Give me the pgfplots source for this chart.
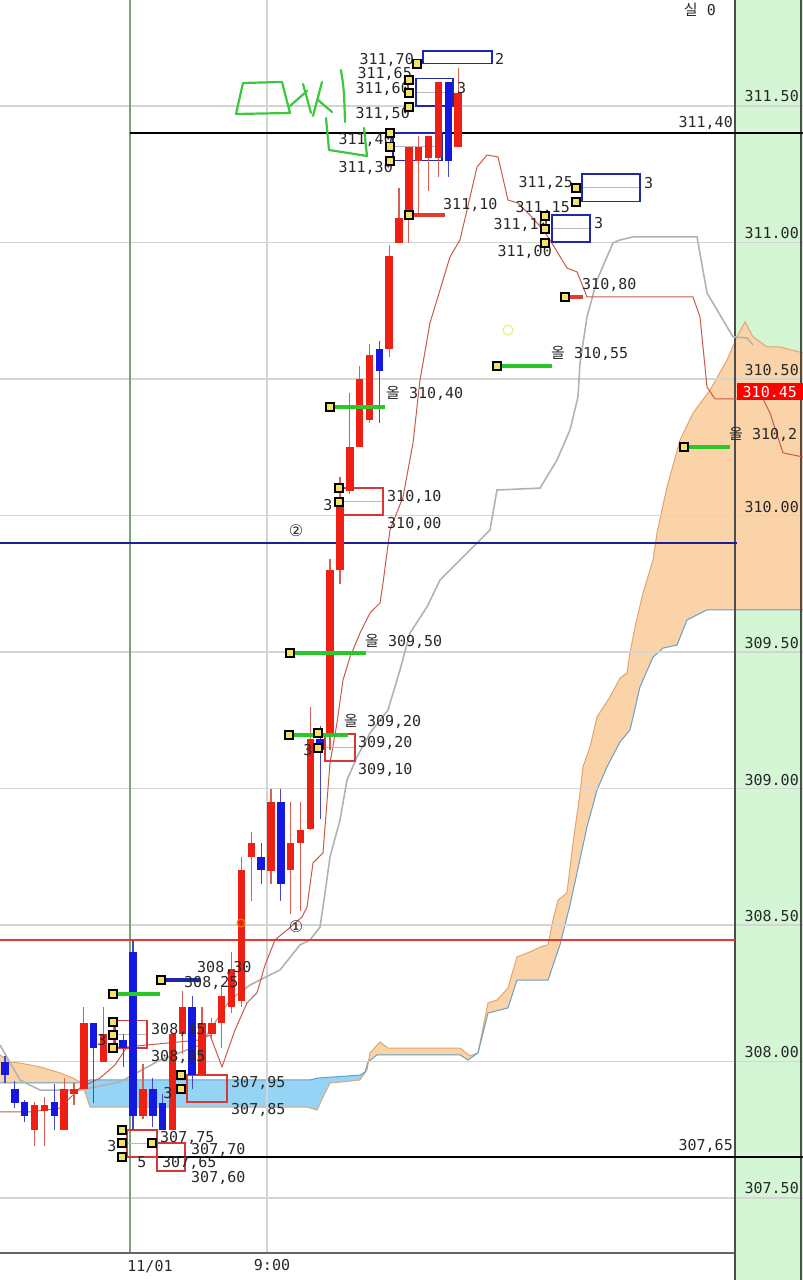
\documentclass[border=0pt]{standalone}
\usepackage{pgfplots}
\pgfplotsset{compat=1.18}
\usepackage{pgfplotstable}
\usepackage{fontspec}
\setmainfont{DejaVu Sans}
\newfontfamily\mono{DejaVu Sans Mono}
\newfontfamily\kr{Noto Sans CJK KR}

\definecolor{cred}{RGB}{238,32,20}
\definecolor{cblue}{RGB}{20,24,225}
\definecolor{wred}{RGB}{215,95,85}
\definecolor{wblue}{RGB}{70,70,205}
\definecolor{boxred}{RGB}{215,55,55}
\definecolor{boxblue}{RGB}{30,40,170}
\definecolor{segg}{RGB}{40,200,40}
\definecolor{navy}{RGB}{30,30,150}
\definecolor{hred}{RGB}{225,60,45}
\definecolor{dotfill}{RGB}{245,225,100}
\definecolor{faintyel}{RGB}{235,235,120}
\definecolor{cloudo}{RGB}{250,212,168}
\definecolor{cloudb}{RGB}{150,212,245}
\definecolor{spanA}{RGB}{225,165,110}
\definecolor{spanB}{RGB}{100,160,200}
\definecolor{tenkan}{RGB}{200,90,70}
\definecolor{kijun}{RGB}{178,178,178}
\definecolor{panel}{RGB}{212,246,212}
\definecolor{gridc}{RGB}{212,212,212}
\definecolor{vgreen}{RGB}{120,165,120}
\definecolor{txt}{RGB}{40,40,40}
\definecolor{hand}{RGB}{60,200,60}

\newcommand{\lf}{\fontsize{15}{15}\selectfont\mono}

% candles: i, open, high, low, close
\pgfplotstableread{
i O H L C
3 307.75 307.85 307.69 307.84
4 307.82 307.87 307.69 307.84
6 307.75 307.94 307.75 307.90
7 307.88 307.92 307.84 307.90
8 307.90 308.20 307.90 308.14
10 308.00 308.20 308.00 308.10
11 308.08 308.13 308.04 308.10
14 307.80 307.99 307.79 307.90
17 307.75 308.10 307.75 308.10
18 308.10 308.26 308.03 308.20
20 307.95 308.20 307.95 308.14
21 308.10 308.16 308.08 308.14
22 308.14 308.28 308.05 308.24
23 308.20 308.40 308.18 308.34
24 308.22 308.75 308.20 308.70
25 308.75 308.84 308.59 308.80
27 308.70 309.00 308.65 308.95
29 308.70 308.95 308.54 308.80
30 308.80 308.95 308.55 308.85
31 308.85 309.30 308.85 309.18
33 309.20 309.84 309.14 309.80
34 309.80 310.14 309.75 310.06
35 310.09 310.45 310.08 310.25
36 310.25 310.55 310.25 310.50
37 310.35 310.63 310.34 310.59
39 310.61 310.99 310.58 310.95
40 311.00 311.20 311.00 311.09
41 311.11 311.35 311.00 311.35
42 311.30 311.39 311.10 311.35
43 311.31 311.39 311.19 311.39
44 311.31 311.59 311.24 311.59
46 311.35 311.64 311.35 311.55
}\redc
\pgfplotstableread{
i O H L C
0 308.00 308.02 307.92 307.95
1 307.90 307.93 307.83 307.85
2 307.85 307.86 307.78 307.80
5 307.85 307.92 307.75 307.80
9 308.14 308.14 307.85 308.05
12 308.08 308.10 307.98 308.05
13 308.40 308.44 307.75 307.80
15 307.90 307.94 307.76 307.80
16 307.85 307.88 307.75 307.75
19 308.20 308.24 307.90 307.95
26 308.75 308.80 308.65 308.70
28 308.95 309.00 308.59 308.65
32 309.18 309.23 308.89 309.14
38 310.61 310.64 310.34 310.53
45 311.59 311.59 311.24 311.30
}\bluec

\newcommand{\pbox}[5]{\addplot[draw=#5, line width=1.8pt, forget plot] coordinates {(#1,#3) (#2,#3) (#2,#4) (#1,#4)} -- cycle;}
\newcommand{\mline}[3]{\addplot[gray!55, line width=1pt, forget plot] coordinates {(#1,#3) (#2,#3)};}
\newcommand{\hseg}[4]{\addplot[#4, line width=3.4pt, forget plot] coordinates {(#1,#3) (#2,#3)};}

\tikzset{lab/.style={font=\lf, text=txt, inner sep=0pt}}

\begin{document}
\begin{tikzpicture}
\useasboundingbox (0,0) rectangle (803pt,1280pt);
\begin{axis}[
  at={(0,0)}, anchor=south west,
  scale only axis, width=803pt, height=1280pt,
  xmin=0, xmax=803, ymin=307.1994, ymax=311.888,
  axis lines=none, xtick=\empty, ytick=\empty,
  clip=false,
]
% price panel on the right
\addplot[fill=panel, draw=none, forget plot] coordinates {(735,307.1994) (803,307.1994) (803,311.888) (735,311.888)} -- cycle;

% ichimoku cloud
\addplot[fill=cloudo, draw=none, forget plot] coordinates {(0,308.024) (10,307.998) (20,307.994) (40,307.980) (60,307.958) (73,307.939) (82,307.921) (0,307.921)} -- cycle;
\addplot[fill=cloudb, draw=none, forget plot] coordinates {(82,307.921) (90,307.932) (310,307.932) (317,307.939) (360,307.950) (365,307.961) (360,307.932) (343,307.925) (330,307.921) (323,307.870) (317,307.822) (307,307.833) (90,307.833)} -- cycle;
\addplot[fill=cloudo, draw=none, forget plot] coordinates {(365,307.961) (367,307.969) (370,308.031) (380,308.071) (388,308.049) (460,308.049) (470,308.020) (478,308.031) (488,308.214) (497,308.225) (508,308.269) (517,308.383) (530,308.401) (540,308.419) (548,308.427) (553,308.518) (558,308.591) (567,308.617) (573,308.800) (580,308.983) (583,309.079) (590,309.152) (597,309.262) (610,309.335) (620,309.404) (627,309.423) (630,309.496) (635,309.591) (643,309.716) (653,309.837) (657,309.936) (667,310.104) (680,310.276) (693,310.375) (710,310.459) (727,310.569) (737,310.654) (745,310.709) (753,310.654) (767,310.617) (780,310.617) (803,310.595) (803,309.654) (707,309.654) (687,309.617) (677,309.525) (663,309.514) (653,309.481) (640,309.372) (630,309.214) (620,309.170) (607,309.079) (597,308.994) (587,308.859) (577,308.690) (570,308.573) (560,308.427) (548,308.298) (517,308.298) (508,308.196) (488,308.177) (478,308.031) (468,308.005) (460,308.024) (377,308.024) (368,307.998)} -- cycle;
\addplot[spanA, line width=1pt, forget plot] coordinates {(0,308.024) (10,307.998) (20,307.994) (40,307.980) (60,307.958) (73,307.939) (82,307.921) (90,307.833) (307,307.833) (317,307.822) (323,307.870) (330,307.921) (343,307.925) (360,307.932) (367,307.969) (370,308.031) (380,308.071) (388,308.049) (460,308.049) (470,308.020) (478,308.031) (488,308.214) (497,308.225) (508,308.269) (517,308.383) (530,308.401) (540,308.419) (548,308.427) (553,308.518) (558,308.591) (567,308.617) (573,308.800) (580,308.983) (583,309.079) (590,309.152) (597,309.262) (610,309.335) (620,309.404) (627,309.423) (630,309.496) (635,309.591) (643,309.716) (653,309.837) (657,309.936) (667,310.104) (680,310.276) (693,310.375) (710,310.459) (727,310.569) (737,310.654) (745,310.709) (753,310.654) (767,310.617) (780,310.617) (803,310.595)};
\addplot[spanB, line width=1pt, forget plot] coordinates {(0,307.921) (82,307.921) (90,307.932) (310,307.932) (317,307.939) (360,307.950) (365,307.961) (368,307.998) (377,308.024) (460,308.024) (468,308.005) (478,308.031) (488,308.177) (508,308.196) (517,308.298) (548,308.298) (560,308.427) (570,308.573) (577,308.690) (587,308.859) (597,308.994) (607,309.079) (620,309.170) (630,309.214) (640,309.372) (653,309.481) (663,309.514) (677,309.525) (687,309.617) (707,309.654) (803,309.654)};

% grid
\pgfplotsinvokeforeach{307.5,308.0,308.5,309.0,309.5,310.0,310.5,311.0,311.5}{
  \draw[gridc, line width=1.6pt] (axis cs:0,#1) -- (axis cs:803,#1);
}
\draw[vgreen, line width=1.2pt] (axis cs:130,311.888) -- (axis cs:130,307.298);
\draw[gridc, line width=1.4pt] (axis cs:267,311.888) -- (axis cs:267,307.298);
\draw[gray!80!black, line width=1.2pt] (axis cs:0,307.298) -- (axis cs:735,307.298);
\draw[black!70, line width=1.4pt] (axis cs:735,311.888) -- (axis cs:735,307.1994);
\draw[black!70, line width=1.2pt] (axis cs:801,311.888) -- (axis cs:801,307.1994);

% kijun and tenkan
\addplot[kijun, line width=1.6pt, forget plot] coordinates {(0,308.060) (20,307.932) (40,307.895) (80,307.895) (120,307.925) (160,308.005) (200,308.060) (230,308.225) (250,308.280) (280,308.335) (300,308.427) (310,308.445) (320,308.492) (325,308.617) (330,308.749) (340,308.884) (347,309.031) (357,309.115) (370,309.203) (388,309.287) (400,309.434) (410,309.569) (427,309.665) (440,309.763) (453,309.811) (473,309.884) (490,309.947) (497,310.093) (540,310.100) (557,310.203) (570,310.313) (578,310.434) (580,310.558) (587,310.727) (597,310.862) (613,310.998) (620,311.009) (633,311.020) (697,311.020) (707,310.815) (733,310.654) (747,310.650) (753,310.624)};
\addplot[tenkan, line width=1pt, forget plot] coordinates {(0,307.815) (30,307.815) (60,307.829) (80,307.903) (100,307.939) (115,307.987) (127,308.053) (200,308.079) (210,308.097) (222,307.980) (235,308.115) (247,308.214) (257,308.251) (265,308.353) (275,308.445) (293,308.500) (302,308.529) (307,308.566) (313,308.727) (323,308.764) (330,309.093) (337,309.240) (343,309.397) (350,309.481) (360,309.569) (370,309.643) (380,309.679) (383,309.752) (390,309.947) (403,310.067) (413,310.265) (420,310.496) (430,310.705) (450,310.947) (460,311.009) (477,311.276) (487,311.320) (498,311.313) (508,311.155) (518,311.144) (530,311.100) (543,311.046) (550,311.009) (567,310.906) (577,310.892) (587,310.800) (693,310.800) (700,310.727) (707,310.470) (715,310.427) (763,310.427) (770,310.375) (783,310.229) (803,310.214)};

% horizontal levels
\addplot[hred, line width=1.8pt, forget plot] coordinates {(0,308.445) (735,308.445)};
\addplot[navy, line width=1.8pt, forget plot] coordinates {(0,309.899) (737,309.899)};
\addplot[black, line width=1.8pt, forget plot] coordinates {(130,311.40) (803,311.40)};
\addplot[black, line width=1.8pt, forget plot] coordinates {(122,307.65) (803,307.65)};

% boxes
\pbox{423}{492}{311.70}{311.655}{boxblue}
\mline{416}{453}{311.55}\pbox{416}{453}{311.60}{311.50}{boxblue}
\mline{393}{442}{311.35}\pbox{393}{442}{311.40}{311.30}{boxblue}
\mline{582}{640}{311.20}\pbox{582}{640}{311.25}{311.15}{boxblue}
\mline{552}{590}{311.05}\pbox{552}{590}{311.10}{311.00}{boxblue}
\mline{340}{383}{310.05}\pbox{340}{383}{310.10}{310.00}{boxred}
\mline{325}{355}{309.15}\pbox{325}{355}{309.20}{309.10}{boxred}
\mline{115}{147}{308.10}\pbox{115}{147}{308.15}{308.05}{boxred}
\pbox{187}{227}{307.95}{307.85}{boxred}
\mline{127}{157}{307.70}\pbox{127}{157}{307.75}{307.65}{boxred}
\pbox{157}{185}{307.70}{307.60}{boxred}

% candles: wicks then bodies
\addplot[only marks, mark size=0pt, draw=none, fill=none, forget plot, error bars/.cd, y dir=both, y explicit, error mark=none, error bar style={line width=1.2pt, wred}]
  table[x expr=5+9.85*\thisrow{i}, y expr=(\thisrow{H}+\thisrow{L})/2, y error expr=(\thisrow{H}-\thisrow{L})/2] {\redc};
\addplot[only marks, mark size=0pt, draw=none, fill=none, forget plot, error bars/.cd, y dir=both, y explicit, error mark=none, error bar style={line width=1.2pt, wblue}]
  table[x expr=5+9.85*\thisrow{i}, y expr=(\thisrow{H}+\thisrow{L})/2, y error expr=(\thisrow{H}-\thisrow{L})/2] {\bluec};
\addplot[only marks, mark size=0pt, draw=none, fill=none, forget plot, error bars/.cd, y dir=both, y explicit, error mark=none, error bar style={line width=7.5pt, cred}]
  table[x expr=5+9.85*\thisrow{i}, y expr=(\thisrow{O}+\thisrow{C})/2, y error expr=abs(\thisrow{C}-\thisrow{O})/2] {\redc};
\addplot[only marks, mark size=0pt, draw=none, fill=none, forget plot, error bars/.cd, y dir=both, y explicit, error mark=none, error bar style={line width=7.5pt, cblue}]
  table[x expr=5+9.85*\thisrow{i}, y expr=(\thisrow{O}+\thisrow{C})/2, y error expr=abs(\thisrow{C}-\thisrow{O})/2] {\bluec};

% order marks
\hseg{409}{445}{311.10}{hred}
\hseg{565}{583}{310.80}{hred}
\hseg{497}{552}{310.547}{segg}
\hseg{330}{385}{310.397}{segg}
\hseg{684}{730}{310.251}{segg}
\hseg{290}{366}{309.496}{segg}
\hseg{289}{348}{309.196}{segg}
\hseg{113}{160}{308.247}{segg}
\hseg{161}{200}{308.298}{boxblue}

\addplot[only marks, mark=o, mark size=5pt, mark options={draw=faintyel, line width=1pt}, forget plot] coordinates {(508,310.679)};
\addplot[only marks, mark=o, mark size=4pt, mark options={draw=orange, line width=1pt}, forget plot] coordinates {(241,308.507)};

\addplot[only marks, mark=square*, mark size=4.2pt, mark options={fill=dotfill, draw=black, line width=1.7pt, rounded corners=2pt}, forget plot] coordinates {
(417,311.655) (409,311.595) (409,311.547) (409,311.496) (390,311.401) (390,311.350) (390,311.298)
(409,311.100) (576,311.199) (576,311.148) (545,311.097) (545,311.049) (545,310.998) (565,310.800)
(497,310.547) (330,310.397) (684,310.251) (339,310.100) (339,310.049) (290,309.496) (289,309.196)
(318,309.203) (318,309.148) (113,308.247) (161,308.298) (113,308.144) (113,308.097) (113,308.049)
(181,307.950) (181,307.899) (122,307.749) (122,307.701) (122,307.650) (152,307.701)};

% labels
\node[lab, anchor=east] at (axis cs:414,311.668) {311,70};
\node[lab, anchor=east] at (axis cs:412,311.617) {311,65};
\node[lab, anchor=east] at (axis cs:410,311.562) {311,60};
\node[lab, anchor=east] at (axis cs:410,311.470) {311,50};
\node[lab, anchor=east] at (axis cs:393,311.375) {311,40};
\node[lab, anchor=east] at (axis cs:393,311.273) {311,30};
\node[lab, anchor=west] at (axis cs:495,311.672) {2};
\node[lab, anchor=west] at (axis cs:457,311.566) {3};
\node[lab, anchor=west] at (axis cs:443,311.137) {311,10};
\node[lab, anchor=east] at (axis cs:573,311.218) {311,25};
\node[lab, anchor=east] at (axis cs:570,311.126) {311,15};
\node[lab, anchor=west] at (axis cs:644,311.218) {3};
\node[lab, anchor=east] at (axis cs:548,311.064) {311,10};
\node[lab, anchor=east] at (axis cs:552,310.965) {311,00};
\node[lab, anchor=west] at (axis cs:594,311.071) {3};
\node[lab, anchor=west] at (axis cs:582,310.844) {310,80};
\node[lab, anchor=west] at (axis cs:551,310.595) {{\kr 올} 310,55};
\node[lab, anchor=west] at (axis cs:386,310.445) {{\kr 올} 310,40};
\node[lab, anchor=west] at (axis cs:729,310.295) {{\kr 올} 310,2};
\node[lab, anchor=west] at (axis cs:387,310.067) {310,10};
\node[lab, anchor=west] at (axis cs:387,309.969) {310,00};
\node[lab] at (axis cs:328,310.038) {3};
\node[lab, font=\fontsize{16}{16}\selectfont] at (axis cs:296,309.943) {②};
\node[lab, anchor=west] at (axis cs:365,309.540) {{\kr 올} 309,50};
\node[lab, anchor=west] at (axis cs:344,309.247) {{\kr 올} 309,20};
\node[lab, anchor=west] at (axis cs:358,309.166) {309,20};
\node[lab, anchor=west] at (axis cs:358,309.067) {309,10};
\node[lab] at (axis cs:308,309.141) {3};
\node[lab, font=\fontsize{16}{16}\selectfont] at (axis cs:296,308.492) {①};
\node[lab, anchor=west] at (axis cs:197,308.342) {308,30};
\node[lab, anchor=west] at (axis cs:184,308.287) {308,25};
\node[lab, anchor=west] at (axis cs:151,308.115) {308,15};
\node[lab, anchor=west] at (axis cs:151,308.016) {308,05};
\node[lab] at (axis cs:102,308.079) {3};
\node[lab, anchor=west] at (axis cs:231,307.921) {307,95};
\node[lab, anchor=west] at (axis cs:231,307.822) {307,85};
\node[lab] at (axis cs:168,307.884) {3};
\node[lab] at (axis cs:112,307.690) {3};
\node[lab] at (axis cs:142,307.632) {5};
\node[lab, anchor=west] at (axis cs:160,307.720) {307,75};
\node[lab, anchor=west] at (axis cs:191,307.676) {307,70};
\node[lab, anchor=west] at (axis cs:162,307.628) {307,65};
\node[lab, anchor=west] at (axis cs:191,307.573) {307,60};
\node[lab, anchor=east] at (axis cs:733,307.690) {307,65};
\node[lab, anchor=east] at (axis cs:733,311.437) {311,40};
\node[lab, anchor=east] at (axis cs:716,311.851) {{\kr 실} 0};
\node[lab] at (axis cs:150,307.247) {11/01};
\node[lab] at (axis cs:272,307.255) {9:00};

% price scale
\node[lab, anchor=east] at (axis cs:799,311.537) {311.50};
\node[lab, anchor=east] at (axis cs:799,311.035) {311.00};
\node[lab, anchor=east] at (axis cs:799,310.533) {310.50};
\node[lab, anchor=east, fill=red, text=white, minimum width=66pt, minimum height=17pt] at (axis cs:803,310.452) {310.45};
\node[lab, anchor=east] at (axis cs:799,310.031) {310.00};
\node[lab, anchor=east] at (axis cs:799,309.533) {309.50};
\node[lab, anchor=east] at (axis cs:799,309.031) {309.00};
\node[lab, anchor=east] at (axis cs:799,308.533) {308.50};
\node[lab, anchor=east] at (axis cs:799,308.035) {308.00};
\node[lab, anchor=east] at (axis cs:799,307.536) {307.50};
\end{axis}

% handwritten note
\begin{scope}[x=1pt, y=-1pt, shift={(0,1280pt)}, hand, line width=2.2pt, line cap=round, line join=round]
\draw (243,83) -- (282,82) -- (290,113) -- (236,114) -- cycle;
\draw (290,106) -- (307,91);
\draw (303,84) -- (311,113);
\draw (322,82) -- (313,116);
\draw (318,100) -- (332,112);
\draw (341,70) .. controls (344,90) .. (345,122);
\draw (326,118) -- (329,150) -- (367,156) -- (364,128);
\end{scope}
\end{tikzpicture}
\end{document}
